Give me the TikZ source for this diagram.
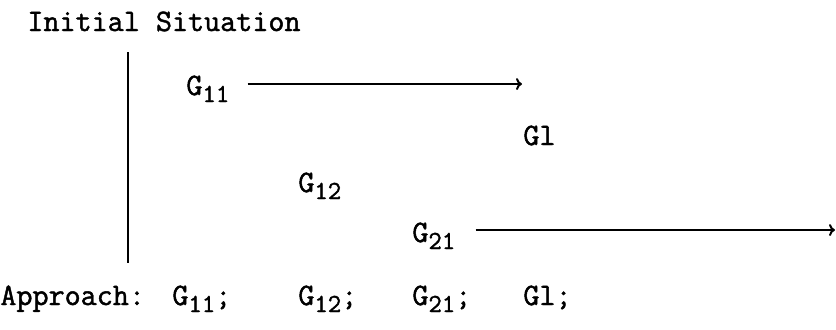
\documentclass[tikz,border=0pt]{standalone}
\usepackage{fontspec}
\setmonofont[FakeBold=1.5]{Latin Modern Mono}
\usetikzlibrary{arrows.meta}
\newcommand{\low}[1]{\raisebox{-3.5pt}{\fontsize{13}{13}\selectfont #1}}

\begin{document}
\begin{tikzpicture}[
	x=0.5pt, y=-0.5pt,
	every node/.style={
		inner sep=0pt,
		anchor=base west,
		font=\ttfamily\fontsize{15.6}{18}\selectfont
	},
	flow/.style={draw, line width=1pt, -{To[length=3pt,width=6pt]}},
	bar/.style={line width=1pt}
]
\useasboundingbox (0,0) rectangle (836,329);
\node (title) at (27,31) {Initial Situation};

\draw[bar] (128,52) -- (128,263);

\node (g11) at (186,95) {G\low{11}};
\node (gl) at (523,145) {Gl};
\node (g12) at (298,192) {G\low{12}};
\node (g21) at (412,242) {G\low{21}};

\coordinate (g11end) at (522,84);
\coordinate (g21end) at (835,230);
\draw[flow, shorten <=9pt] (g11.east |- g11end) -- (g11end);
\draw[flow, shorten <=10pt] (g21.east |- g21end) -- (g21end);

\node (approach) at (0,305) {Approach:};
\node (ap1) at (172,305) {G\low{11};};
\node (ap2) at (298,305) {G\low{12};};
\node (ap3) at (412,305) {G\low{21};};
\node (ap4) at (523,305) {Gl;};
\end{tikzpicture}
\end{document}
